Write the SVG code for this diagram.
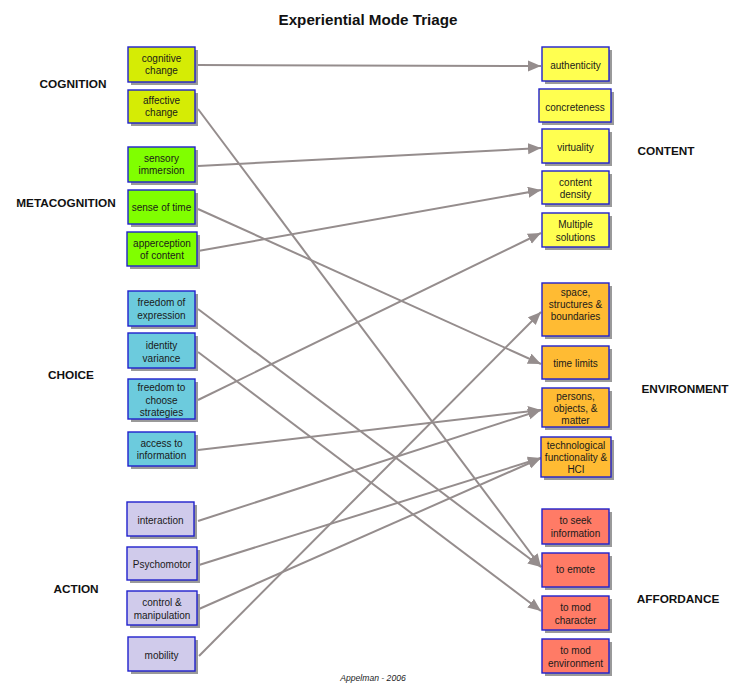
<svg xmlns="http://www.w3.org/2000/svg" width="738" height="683" viewBox="0 0 738 683">
<defs>
<style>
.box{stroke:#2020cc;stroke-width:1.4}
.sh{fill:#9a9a9a}
.t{font-family:"Liberation Sans",Arial,sans-serif;font-size:10px;fill:#1a1a1a;text-anchor:middle}
.g{font-family:"Liberation Sans",Arial,sans-serif;font-size:11.8px;font-weight:bold;fill:#111;text-anchor:middle}
.cog{fill:#d5ec05}.meta{fill:#80ff00}.cho{fill:#6ccbdd}.act{fill:#d0cbeb}
.con{fill:#ffff50}.env{fill:#ffbb33}.aff{fill:#ff7b66}
.c line{stroke:#958d8d;stroke-width:2;marker-end:url(#ah)}
</style>
<marker id="ah" markerUnits="userSpaceOnUse" markerWidth="14" markerHeight="12" refX="13" refY="5.5" orient="auto">
<path d="M0,0 L13,5.5 L0,11 Z" fill="#958d8d"/>
</marker>
</defs>
<rect width="738" height="683" fill="#fff"/>
<text x="368" y="25" font-family="'Liberation Sans',Arial,sans-serif" font-size="15.2" font-weight="bold" text-anchor="middle" fill="#111">Experiential Mode Triage</text>
<text x="373" y="681" font-family="'Liberation Sans',Arial,sans-serif" font-size="8.6" font-style="italic" text-anchor="middle" fill="#222">Appelman - 2006</text>

<g id="labels">
<text class="g" x="73" y="88">COGNITION</text>
<text class="g" x="66" y="207">METACOGNITION</text>
<text class="g" x="71" y="379">CHOICE</text>
<text class="g" x="76" y="593">ACTION</text>
<text class="g" x="666" y="155">CONTENT</text>
<text class="g" x="685" y="393">ENVIRONMENT</text>
<text class="g" x="678" y="603">AFFORDANCE</text>
</g>

<g class="c" id="connectors">
<line x1="198" y1="65" x2="541" y2="66"/>
<line x1="198" y1="109" x2="541" y2="567"/>
<line x1="198" y1="166" x2="541" y2="148"/>
<line x1="198" y1="209" x2="541" y2="364"/>
<line x1="198" y1="251" x2="541" y2="190"/>
<line x1="198" y1="309" x2="541" y2="567"/>
<line x1="198" y1="352" x2="541" y2="611"/>
<line x1="198" y1="400" x2="541" y2="233"/>
<line x1="198" y1="450" x2="541" y2="410"/>
<line x1="198" y1="521" x2="541" y2="410"/>
<line x1="199" y1="565" x2="541" y2="458"/>
<line x1="199" y1="609" x2="541" y2="458"/>
<line x1="199" y1="656" x2="541" y2="312"/>
</g>

<g id="n-cognitive-change"><rect class="sh" x="131" y="50" width="67" height="35"/><rect class="box cog" x="128" y="47" width="67" height="35"/><text class="t" x="161.5" y="62">cognitive</text><text class="t" x="161.5" y="74">change</text></g>
<g id="n-affective-change"><rect class="sh" x="131" y="93" width="67" height="33"/><rect class="box cog" x="128" y="90" width="67" height="33"/><text class="t" x="161.5" y="104">affective</text><text class="t" x="161.5" y="116">change</text></g>
<g id="n-sensory-immersion"><rect class="sh" x="131" y="150" width="67" height="35"/><rect class="box meta" x="128" y="147" width="67" height="35"/><text class="t" x="161.5" y="162">sensory</text><text class="t" x="161.5" y="174">immersion</text></g>
<g id="n-sense-of-time"><rect class="sh" x="131" y="193" width="67" height="34"/><rect class="box meta" x="128" y="190" width="67" height="34"/><text class="t" x="161.5" y="211">sense of time</text></g>
<g id="n-apperception"><rect class="sh" x="130" y="235" width="70" height="34"/><rect class="box meta" x="127" y="232" width="70" height="34"/><text class="t" x="162" y="247">apperception</text><text class="t" x="162" y="259">of content</text></g>

<g id="n-freedom-expression"><rect class="sh" x="131" y="294" width="67" height="35"/><rect class="box cho" x="128" y="291" width="67" height="35"/><text class="t" x="161.5" y="306">freedom of</text><text class="t" x="161.5" y="319">expression</text></g>
<g id="n-identity-variance"><rect class="sh" x="131" y="336" width="67" height="35"/><rect class="box cho" x="128" y="333" width="67" height="35"/><text class="t" x="161.5" y="349">identity</text><text class="t" x="161.5" y="362">variance</text></g>
<g id="n-freedom-choose"><rect class="sh" x="131" y="382" width="67" height="40"/><rect class="box cho" x="128" y="379" width="67" height="40"/><text class="t" x="161.5" y="391">freedom to</text><text class="t" x="161.5" y="403.5">choose</text><text class="t" x="161.5" y="416">strategies</text></g>
<g id="n-access-info"><rect class="sh" x="131" y="435" width="67" height="34"/><rect class="box cho" x="128" y="432" width="67" height="34"/><text class="t" x="161.5" y="447">access to</text><text class="t" x="161.5" y="459">information</text></g>

<g id="n-interaction"><rect class="sh" x="130" y="505" width="67" height="34"/><rect class="box act" x="127" y="502" width="67" height="34"/><text class="t" x="160.5" y="524">interaction</text></g>
<g id="n-psychomotor"><rect class="sh" x="130" y="550" width="70" height="33"/><rect class="box act" x="127" y="547" width="70" height="33"/><text class="t" x="162" y="568">Psychomotor</text></g>
<g id="n-control"><rect class="sh" x="130" y="594" width="70" height="34"/><rect class="box act" x="127" y="591" width="70" height="34"/><text class="t" x="162" y="606">control &amp;</text><text class="t" x="162" y="619">manipulation</text></g>
<g id="n-mobility"><rect class="sh" x="131" y="640" width="67" height="34"/><rect class="box act" x="128" y="637" width="67" height="34"/><text class="t" x="161.5" y="659">mobility</text></g>

<g id="n-authenticity"><rect class="sh" x="545" y="50" width="67" height="34"/><rect class="box con" x="542" y="47" width="67" height="34"/><text class="t" x="575.5" y="69">authenticity</text></g>
<g id="n-concreteness"><rect class="sh" x="542" y="92" width="72" height="33"/><rect class="box con" x="539" y="89" width="72" height="33"/><text class="t" x="575" y="111">concreteness</text></g>
<g id="n-virtuality"><rect class="sh" x="545" y="132" width="67" height="34"/><rect class="box con" x="542" y="129" width="67" height="34"/><text class="t" x="575.5" y="151">virtuality</text></g>
<g id="n-content-density"><rect class="sh" x="545" y="174" width="67" height="33"/><rect class="box con" x="542" y="171" width="67" height="33"/><text class="t" x="575.5" y="186">content</text><text class="t" x="575.5" y="198">density</text></g>
<g id="n-multiple-solutions"><rect class="sh" x="545" y="216" width="67" height="34"/><rect class="box con" x="542" y="213" width="67" height="34"/><text class="t" x="575.5" y="228">Multiple</text><text class="t" x="575.5" y="241">solutions</text></g>

<g id="n-space"><rect class="sh" x="545" y="286" width="67" height="53"/><rect class="box env" x="542" y="283" width="67" height="53"/><text class="t" x="575.5" y="296">space,</text><text class="t" x="575.5" y="308">structures &amp;</text><text class="t" x="575.5" y="320">boundaries</text></g>
<g id="n-time-limits"><rect class="sh" x="545" y="349" width="67" height="33"/><rect class="box env" x="542" y="346" width="67" height="33"/><text class="t" x="575.5" y="367">time limits</text></g>
<g id="n-persons"><rect class="sh" x="545" y="391" width="67" height="39"/><rect class="box env" x="542" y="388" width="67" height="39"/><text class="t" x="575.5" y="400">persons,</text><text class="t" x="575.5" y="412">objects, &amp;</text><text class="t" x="575.5" y="424">matter</text></g>
<g id="n-technological"><rect class="sh" x="544" y="440" width="70" height="40"/><rect class="box env" x="541" y="437" width="70" height="40"/><text class="t" x="576" y="449">technological</text><text class="t" x="576" y="461">functionality &amp;</text><text class="t" x="576" y="473">HCI</text></g>

<g id="n-seek-info"><rect class="sh" x="545" y="512" width="67" height="35"/><rect class="box aff" x="542" y="509" width="67" height="35"/><text class="t" x="575.5" y="524">to seek</text><text class="t" x="575.5" y="537">information</text></g>
<g id="n-emote"><rect class="sh" x="545" y="556" width="67" height="34"/><rect class="box aff" x="542" y="553" width="67" height="34"/><text class="t" x="575.5" y="573">to emote</text></g>
<g id="n-mod-character"><rect class="sh" x="545" y="599" width="67" height="34"/><rect class="box aff" x="542" y="596" width="67" height="34"/><text class="t" x="575.5" y="611">to mod</text><text class="t" x="575.5" y="624">character</text></g>
<g id="n-mod-environment"><rect class="sh" x="545" y="642" width="67" height="34"/><rect class="box aff" x="542" y="639" width="67" height="34"/><text class="t" x="575.5" y="654">to mod</text><text class="t" x="575.5" y="667">environment</text></g>
</svg>
